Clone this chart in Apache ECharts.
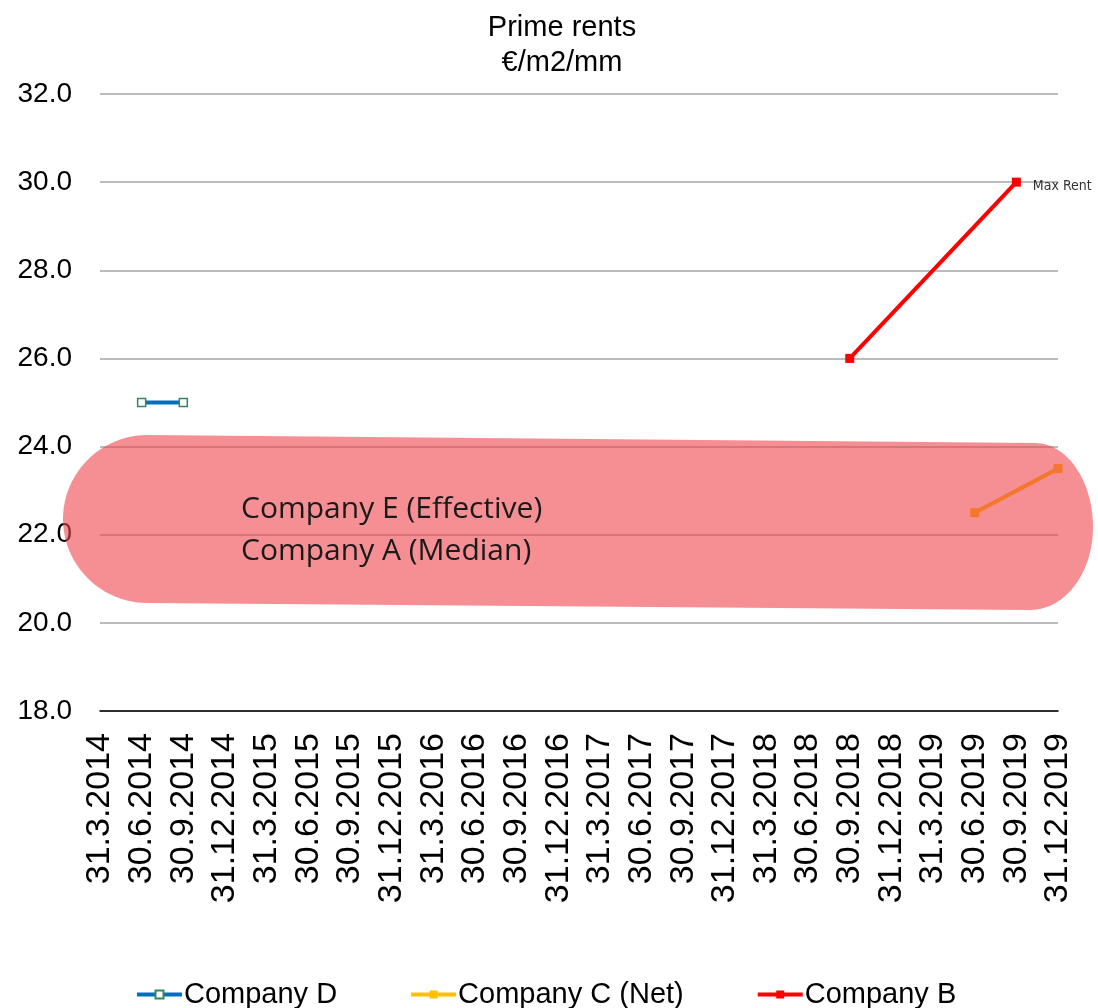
<!DOCTYPE html>
<html>
<head>
<meta charset="utf-8">
<title>Prime rents</title>
<script src="https://cdn.jsdelivr.net/npm/echarts@6/dist/echarts.min.js"></script>
<style>
  html, body { margin: 0; padding: 0; background: #ffffff; }
  #chart { width: 1098px; height: 1008px; }
</style>
</head>
<body>
<div id="chart"></div>
<script>
// Quarter-end dates shown on the category axis
const quarters = [
  '31.3.2014', '30.6.2014', '30.9.2014', '31.12.2014',
  '31.3.2015', '30.6.2015', '30.9.2015', '31.12.2015',
  '31.3.2016', '30.6.2016', '30.9.2016', '31.12.2016',
  '31.3.2017', '30.6.2017', '30.9.2017', '31.12.2017',
  '31.3.2018', '30.6.2018', '30.9.2018', '31.12.2018',
  '31.3.2019', '30.6.2019', '30.9.2019', '31.12.2019'
];

// Prime rents, €/m2/month (null = no observation for that quarter)
const companyD = [null, 25.0, 25.0, null, null, null, null, null, null, null, null, null,
                  null, null, null, null, null, null, null, null, null, null, null, null];
const companyCNet = [null, null, null, null, null, null, null, null, null, null, null, null,
                     null, null, null, null, null, null, null, null, null, 22.5, null, 23.5];
const companyB = [null, null, null, null, null, null, null, null, null, null, null, null,
                  null, null, null, null, null, null, 26.0, null, null, null, 30.0, null];

// Value-axis range
const yMin = 18, yMax = 32, yStep = 2;

// Annotated point on Company B's series
const maxRentIndex = 22;
const maxRentText = 'Max Rent';

// Labels written over the highlighted band
const bandLines = ['Company E (Effective)', 'Company A (Median)'];

const chart = echarts.init(document.getElementById('chart'), null, { renderer: 'canvas' });

const fontMain = "'Liberation Sans', Arial, sans-serif";

// Outline of the rounded band: straight edges joined by cubic curves,
// sampled into a polygon.
function cubic(p0, p1, p2, p3, n) {
  const pts = [];
  for (let i = 1; i <= n; i++) {
    const t = i / n, u = 1 - t;
    pts.push([
      u * u * u * p0[0] + 3 * u * u * t * p1[0] + 3 * u * t * t * p2[0] + t * t * t * p3[0],
      u * u * u * p0[1] + 3 * u * u * t * p1[1] + 3 * u * t * t * p2[1] + t * t * t * p3[1]
    ]);
  }
  return pts;
}
function bandOutline() {
  let pts = [[147, 435], [1035, 443]];
  pts = pts.concat(cubic([1035, 443], [1067, 443], [1093, 481], [1093, 527], 24));
  pts = pts.concat(cubic([1093, 527], [1093, 573], [1065, 610], [1030, 610], 24));
  pts.push([147, 603]);
  pts = pts.concat(cubic([147, 603], [101, 603], [63, 565], [63, 519], 24));
  pts = pts.concat(cubic([63, 519], [63, 473], [101, 435], [147, 435], 24));
  return pts;
}

const companyBData = companyB.map((v, i) => i === maxRentIndex && v !== null ? {
  value: v,
  label: {
    show: true,
    position: 'right',
    distance: 12,
    offset: [0, 4],
    formatter: maxRentText,
    color: '#333333',
    fontSize: 14,
    fontFamily: "'Liberation Sans Narrow', 'DejaVu Sans Condensed', sans-serif"
  }
} : v);

const option = {
  animation: false,
  backgroundColor: '#ffffff',
  title: {
    text: 'Prime rents\n€/m2/mm',
    left: 557,
    top: 5,
    textAlign: 'center',
    textStyle: {
      fontFamily: fontMain,
      fontSize: 29,
      fontWeight: 'normal',
      color: '#000000',
      lineHeight: 35
    }
  },
  grid: {
    left: 100,
    right: 40,
    top: 94,
    bottom: 297
  },
  legend: {
    left: 135,
    top: 980,
    padding: 0,
    itemWidth: 45,
    itemHeight: 10,
    itemGap: 72,
    lineStyle: { width: 4 },
    textStyle: {
      fontFamily: fontMain,
      fontSize: 29,
      color: '#000000',
      padding: [0, 0, 0, -3]
    },
    data: ['Company D', 'Company C (Net)', 'Company B']
  },
  xAxis: {
    type: 'category',
    data: quarters,
    boundaryGap: false,
    axisLine: { show: true, lineStyle: { color: '#000000', width: 1.5 } },
    axisTick: { show: false },
    splitLine: { show: false },
    axisLabel: {
      rotate: 90,
      interval: 0,
      margin: 22,
      fontFamily: fontMain,
      fontSize: 34,
      color: '#000000'
    }
  },
  yAxis: {
    type: 'value',
    min: yMin,
    max: yMax,
    interval: yStep,
    axisLine: { show: false },
    axisTick: { show: false },
    axisLabel: {
      margin: 28,
      fontFamily: fontMain,
      fontSize: 28,
      color: '#000000',
      formatter: v => v.toFixed(1)
    },
    splitLine: { show: true, lineStyle: { color: '#a6a6a6', width: 1.5 } }
  },
  series: [
    {
      name: 'Company D',
      type: 'line',
      data: companyD,
      connectNulls: true,
      symbol: 'rect',
      symbolSize: 8,
      showAllSymbol: true,
      lineStyle: { color: '#0070c0', width: 4 },
      itemStyle: { color: '#ffffff', borderColor: '#2e8b57', borderWidth: 1.5 },
      emphasis: { disabled: true },
      z: 3
    },
    {
      name: 'Company C (Net)',
      type: 'line',
      data: companyCNet,
      connectNulls: true,
      symbol: 'rect',
      symbolSize: 9,
      showAllSymbol: true,
      lineStyle: { color: '#ffc000', width: 4 },
      itemStyle: { color: '#ffc000' },
      emphasis: { disabled: true },
      z: 3
    },
    {
      name: 'Company B',
      type: 'line',
      data: companyBData,
      connectNulls: true,
      symbol: 'rect',
      symbolSize: 9,
      showAllSymbol: true,
      lineStyle: { color: '#ff0000', width: 4 },
      itemStyle: { color: '#ff0000' },
      emphasis: { disabled: true },
      z: 3
    }
  ],
  graphic: [
    {
      // translucent rounded band laid over the lower part of the plot
      type: 'polygon',
      z: 100,
      silent: true,
      shape: { points: bandOutline() },
      style: { fill: 'rgba(238,68,75,0.6)' }
    },
    {
      type: 'text',
      z: 101,
      silent: true,
      x: 241,
      y: 509,
      style: {
        text: bandLines[0],
        fontFamily: "'Open Sans', sans-serif",
        fontSize: 30,
        fill: '#1a1a1a',
        verticalAlign: 'middle'
      }
    },
    {
      type: 'text',
      z: 101,
      silent: true,
      x: 241,
      y: 551,
      style: {
        text: bandLines[1],
        fontFamily: "'Open Sans', sans-serif",
        fontSize: 30,
        fill: '#1a1a1a',
        verticalAlign: 'middle'
      }
    }
  ]
};

chart.setOption(option);
</script>
</body>
</html>
